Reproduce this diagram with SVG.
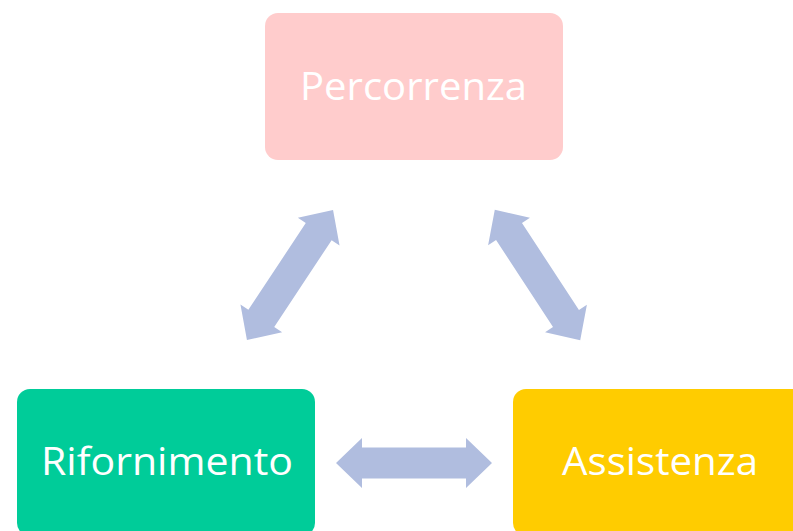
<svg xmlns="http://www.w3.org/2000/svg" width="793" height="531" viewBox="0 0 793 531">
  <style>
    .lbl { font-family: "Open Sans", "Noto Sans", "Liberation Sans", sans-serif; font-size: 39px; fill: #ffffff; text-anchor: middle; }
    .arr { fill: #B0BDDF; }
  </style>
  <defs>
    <path id="dbl" d="M-78,0 L-52,-25 L-52,-15.5 L52,-15.5 L52,-25 L78,0 L52,25 L52,15.5 L-52,15.5 L-52,25 Z"/>
  </defs>
  <rect width="793" height="531" fill="#ffffff"/>
  <g id="connectors">
    <use href="#dbl" class="arr" transform="translate(290,275) rotate(-56.5)"/>
    <use href="#dbl" class="arr" transform="translate(537.5,275) rotate(56.8)"/>
    <use href="#dbl" class="arr" transform="translate(414,463)"/>
  </g>
  <g id="percorrenza">
    <rect x="265" y="13" width="298" height="147" rx="13" fill="#FFCCCC"/>
    <text class="lbl" x="413.5" y="100" textLength="227" lengthAdjust="spacingAndGlyphs">Percorrenza</text>
  </g>
  <g id="rifornimento">
    <rect x="17" y="389" width="298" height="147" rx="13" fill="#00CC99"/>
    <text class="lbl" x="167" y="475" textLength="252" lengthAdjust="spacingAndGlyphs">Rifornimento</text>
  </g>
  <g id="assistenza">
    <rect x="513" y="389" width="298" height="147" rx="13" fill="#FFCC00"/>
    <text class="lbl" x="660" y="475" textLength="196" lengthAdjust="spacingAndGlyphs">Assistenza</text>
  </g>
</svg>
